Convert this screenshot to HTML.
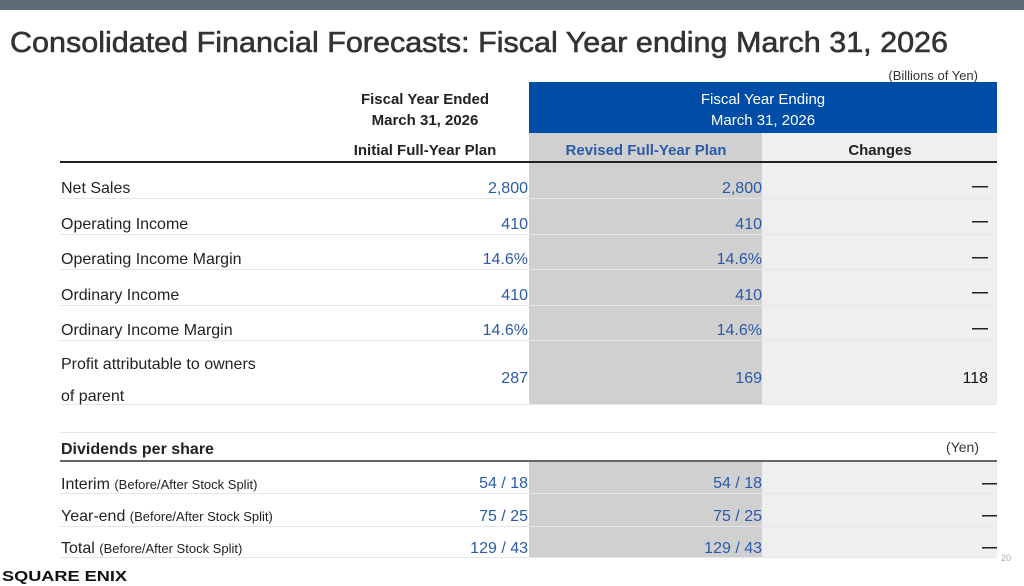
<!DOCTYPE html>
<html><head><meta charset="utf-8"><style>
body{margin:0;width:1024px;height:586px;overflow:hidden;background:#fff}
svg{display:block}
text{font-family:"Liberation Sans",sans-serif}
</style></head><body>
<svg width="1024" height="586" viewBox="0 0 1024 586" xmlns="http://www.w3.org/2000/svg">
<rect x="0" y="0" width="1024" height="10" fill="#5f6b77"/>
<text x="10" y="52" font-size="29" fill="#333" stroke="#333" stroke-width="0.6" textLength="938" lengthAdjust="spacingAndGlyphs">Consolidated Financial Forecasts: Fiscal Year ending March 31, 2026</text>
<text x="978" y="80" font-size="13" fill="#333" text-anchor="end">(Billions of Yen)</text>
<rect x="529" y="82" width="468" height="51" fill="#004da8"/>
<rect x="529" y="133" width="233" height="272" fill="#d0d0d0"/>
<rect x="762" y="133" width="235" height="272" fill="#efefef"/>
<rect x="529" y="461" width="233" height="96" fill="#d0d0d0"/>
<rect x="762" y="461" width="235" height="96" fill="#efefef"/>
<g font-size="15" font-weight="bold" fill="#222" text-anchor="middle">
<text x="425" y="104">Fiscal Year Ended</text>
<text x="425" y="125">March 31, 2026</text>
<text x="425" y="155">Initial Full-Year Plan</text>
<text x="763" y="104" fill="#fff" font-weight="normal">Fiscal Year Ending</text>
<text x="763" y="125" fill="#fff" font-weight="normal">March 31, 2026</text>
<text x="646" y="155" fill="#2a5aa8">Revised Full-Year Plan</text>
<text x="880" y="155">Changes</text>
</g>
<rect x="60" y="161" width="937" height="2" fill="#222"/>
<g fill="#e4e6ea">
<rect x="60" y="198" width="937" height="1"/>
<rect x="60" y="234" width="937" height="1"/>
<rect x="60" y="269" width="937" height="1"/>
<rect x="60" y="305" width="937" height="1"/>
<rect x="60" y="340" width="937" height="1"/>
<rect x="60" y="404" width="937" height="1"/>
<rect x="60" y="432" width="937" height="1"/>
<rect x="60" y="493" width="937" height="1"/>
<rect x="60" y="526" width="937" height="1"/>
<rect x="60" y="557" width="937" height="1"/>
</g>
<rect x="60" y="460" width="937" height="2" fill="#666"/>
<g font-size="16" fill="#222">
<text x="61" y="193">Net Sales</text>
<text x="61" y="229">Operating Income</text>
<text x="61" y="264">Operating Income Margin</text>
<text x="61" y="300">Ordinary Income</text>
<text x="61" y="335">Ordinary Income Margin</text>
<text x="61" y="369">Profit attributable to owners</text>
<text x="61" y="401">of parent</text>
<text x="61" y="454" font-weight="bold">Dividends per share</text>
<text x="61" y="489">Interim <tspan font-size="13">(Before/After Stock Split)</tspan></text>
<text x="61" y="521">Year-end <tspan font-size="13">(Before/After Stock Split)</tspan></text>
<text x="61" y="553">Total <tspan font-size="13">(Before/After Stock Split)</tspan></text>
</g>
<text x="979" y="452" font-size="14" fill="#333" text-anchor="end">(Yen)</text>
<g font-size="16" fill="#2a5aa8" text-anchor="end">
<text x="528" y="193">2,800</text><text x="762" y="193">2,800</text>
<text x="528" y="229">410</text><text x="762" y="229">410</text>
<text x="528" y="264">14.6%</text><text x="762" y="264">14.6%</text>
<text x="528" y="300">410</text><text x="762" y="300">410</text>
<text x="528" y="335">14.6%</text><text x="762" y="335">14.6%</text>
<text x="528" y="383">287</text><text x="762" y="383">169</text>
<text x="528" y="488">54 / 18</text><text x="762" y="488">54 / 18</text>
<text x="528" y="521">75 / 25</text><text x="762" y="521">75 / 25</text>
<text x="528" y="553">129 / 43</text><text x="762" y="553">129 / 43</text>
</g>
<text x="988" y="383" font-size="16" fill="#111" text-anchor="end">118</text>
<g fill="#222">
<rect x="972" y="186" width="16" height="1.5"/>
<rect x="972" y="221" width="16" height="1.5"/>
<rect x="972" y="257" width="16" height="1.5"/>
<rect x="972" y="292" width="16" height="1.5"/>
<rect x="972" y="328" width="16" height="1.5"/>
<rect x="982" y="483" width="15" height="1.5"/>
<rect x="982" y="515" width="15" height="1.5"/>
<rect x="982" y="547" width="15" height="1.5"/>
</g>
<text x="1001" y="561" font-size="9" fill="#aaa">20</text>
<text x="2" y="581" font-size="15" font-weight="bold" fill="#111" textLength="125" lengthAdjust="spacingAndGlyphs">SQUARE ENIX</text>
</svg>
</body></html>
